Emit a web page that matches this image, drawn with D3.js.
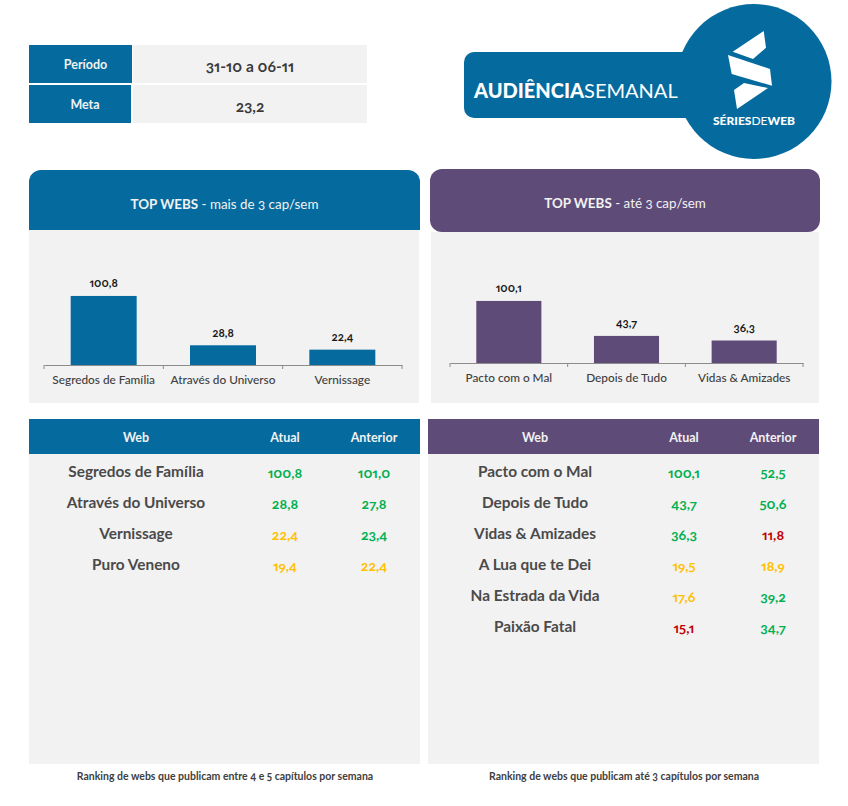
<!DOCTYPE html>
<html lang="pt"><head><meta charset="utf-8">
<script src="https://cdn.jsdelivr.net/npm/d3@7"></script>
<style>
html,body{margin:0;padding:0;background:#fff}
svg{display:block}
text{font-family:Lato,"Open Sans",sans-serif;font-feature-settings:"onum" 1,"pnum" 1}
</style></head><body><div id="chart"></div>
<script>
const periodLabel="Período", periodValue="31-10 a 06-11", metaLabel="Meta", metaValue="23,2";
const meta=23.2, redLimit=16;
const colBlue="#056b9f", colPurple="#5f4b78", colGrey="#f2f2f2", colText="#404040";
const colGreen="#00b050", colYellow="#ffc000", colRed="#c00000";

const leftNames=["Segredos de Família","Através do Universo","Vernissage","Puro Veneno"];
const leftAtual=[100.8,28.8,22.4,19.4];
const leftAnterior=[101.0,27.8,23.4,22.4];
const rightNames=["Pacto com o Mal","Depois de Tudo","Vidas & Amizades","A Lua que te Dei","Na Estrada da Vida","Paixão Fatal"];
const rightAtual=[100.1,43.7,36.3,19.5,17.6,15.1];
const rightAnterior=[52.5,50.6,11.8,18.9,39.2,34.7];
const columnHeads=["Web","Atual","Anterior"];
const fmt=v=>v.toFixed(1).replace(".",",");
const valueColor=v=>v>=meta?colGreen:(v>=redLimit?colYellow:colRed);

const svg=d3.select("#chart").append("svg").attr("width",848).attr("height",806);
function label(x,y,t,size,weight,fill){
  return svg.append("text").attr("x",x).attr("y",y).attr("text-anchor","middle")
    .attr("dominant-baseline","central").attr("font-size",size).attr("font-weight",weight).attr("fill",fill).text(t);
}
function rect(x,y,w,h,fill,r){
  return svg.append("rect").attr("x",x).attr("y",y).attr("width",w).attr("height",h).attr("fill",fill).attr("rx",r||0);
}

// top info table
rect(29,45,103,38,colBlue); rect(133,45,234,38,colGrey);
rect(29,85,102,38,colBlue); rect(133,85,234,38,colGrey);
label(85.5,64.5,periodLabel,12.5,700,"#f2f2f2");
label(85,104.5,metaLabel,12.5,700,"#f2f2f2");
label(250,66,periodValue,15.5,700,"#3a3a3a");
label(250,106,metaValue,15.5,700,"#3a3a3a");

// banner + logo
rect(464,52,260,66,colBlue,10);
svg.append("circle").attr("cx",754).attr("cy",81.5).attr("r",77.5).attr("fill",colBlue);
[[[763.7,31],[766,47.7],[753,59],[732.7,51.7]],
 [[728,55],[770,69],[772,85.7],[731.7,74]],
 [[768,88],[737,109],[734,90],[744,83]]].forEach(p=>
  svg.append("polygon").attr("points",p.join(" ")).attr("fill","#fff"));
const bannerText=svg.append("text").attr("x",474).attr("y",98).attr("font-size",20).attr("fill","#fff");
bannerText.append("tspan").attr("font-weight",900).text("AUDIÊNCIA");
bannerText.append("tspan").attr("font-weight",400).text("SEMANAL");
const logoText=svg.append("text").attr("x",754).attr("y",125).attr("text-anchor","middle").attr("font-size",12).attr("fill","#fff");
logoText.append("tspan").attr("font-weight",900).text("SÉRIES");
logoText.append("tspan").attr("font-weight",400).text("DE");
logoText.append("tspan").attr("font-weight",900).text("WEB");

function panel(o){
  // chart panel
  rect(o.px,o.gy,o.pw,403-o.gy,colGrey);
  if(o.roundAll){ rect(o.hx,o.hy,o.hw,o.hh,o.color,12); }
  else {
    rect(o.hx,o.hy,o.hw,30,o.color,12);
    rect(o.hx,o.hy+14,o.hw,o.hh-14,o.color);
  }
  const head=svg.append("text").attr("x",o.hx+o.hw/2).attr("y",o.hy+34).attr("text-anchor","middle")
    .attr("dominant-baseline","central").attr("font-size",13.4).attr("fill","#f2f2f2");
  head.append("tspan").attr("font-weight",700).text("TOP WEBS");
  head.append("tspan").text(" - "+o.sub);

  const names=o.names.slice(0,3), vals=o.atual.slice(0,3);
  const x=d3.scaleBand().domain(names).range([o.ax0,o.ax1]).paddingInner(0.447).paddingOuter(0.2235);
  const y=d3.scaleLinear().domain([0,120]).range([o.base,o.base-120*o.k]);
  const g=svg.append("g");
  g.selectAll("rect").data(vals).join("rect")
    .attr("x",(d,i)=>x(names[i])).attr("width",x.bandwidth())
    .attr("y",d=>y(d)).attr("height",d=>y(0)-y(d)).attr("fill",o.color);
  g.selectAll("text.v").data(vals).join("text").attr("class","v")
    .attr("x",(d,i)=>x(names[i])+x.bandwidth()/2).attr("y",d=>y(d)-13)
    .attr("text-anchor","middle").attr("dominant-baseline","central")
    .attr("font-size",11.5).attr("font-weight",700).attr("fill","#1a1a1a").text(fmt);
  const axis=svg.append("g").attr("transform",`translate(0,${o.base})`)
    .call(d3.axisBottom(x).tickSize(0).tickPadding(11));
  axis.select(".domain").attr("stroke","#8c8c8c");
  axis.selectAll("text").attr("font-size",11.8).attr("font-weight",500).attr("fill",colText)
    .style("font-family","Lato,sans-serif");
  const step=x.step();
  axis.selectAll("line.t").data(d3.range(4)).join("line").attr("class","t")
    .attr("x1",i=>o.ax0+i*step).attr("x2",i=>o.ax0+i*step).attr("y1",0).attr("y2",4).attr("stroke","#8c8c8c");

  // table
  rect(o.tx,419,391,35,o.color);
  rect(o.tx,454,391,310,colGrey);
  const cols=[o.tx+107,o.tx+256,o.tx+345];
  columnHeads.forEach((h,i)=>label(cols[i],437.5,h,12.5,700,"#f2f2f2"));
  o.names.forEach((n,i)=>{
    const yy=471+31*i;
    label(cols[0],yy-0.5,n,15.4,700,"#4a4a4a");
    label(cols[1],yy+1,fmt(o.atual[i]),14,700,valueColor(o.atual[i]));
    label(cols[2],yy+1,fmt(o.anterior[i]),14,700,valueColor(o.anterior[i]));
  });
  label(o.footX,776,o.foot,10.5,700,colText);
}
panel({px:29,pw:390,gy:230,hx:29,hy:170,hw:391,hh:60,color:colBlue,sub:"mais de 3 cap/sem",
  names:leftNames,atual:leftAtual,anterior:leftAnterior,ax0:44,ax1:402,base:365,k:0.685,tx:29,
  foot:"Ranking de webs que publicam entre 4 e 5 capítulos por semana",footX:225});
panel({px:431,pw:388,gy:232,hx:430,hy:169,hw:390,hh:63,roundAll:true,color:colPurple,sub:"até 3 cap/sem",
  names:rightNames,atual:rightAtual,anterior:rightAnterior,ax0:450,ax1:803,base:363,k:0.62,tx:428,
  foot:"Ranking de webs que publicam até 3 capítulos por semana",footX:624});
</script></body></html>
